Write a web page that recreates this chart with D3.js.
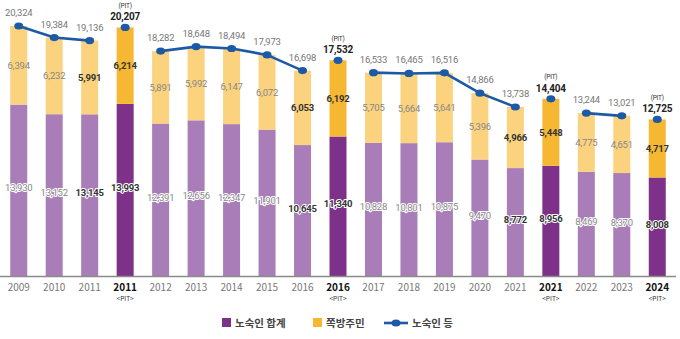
<!DOCTYPE html>
<html>
<head>
<meta charset="utf-8">
<script src="https://cdn.jsdelivr.net/npm/d3@7"></script>
<style>
  html, body { margin: 0; padding: 0; background: #fff; }
  svg { display: block; font-family: "Noto Sans CJK KR", "Noto Sans", sans-serif; }
  .num { font-family: Roboto, "Noto Sans", sans-serif; }
</style>
</head>
<body>
<div id="app"></div>
<script>
// categories: year, PIT survey flag
const years = ['2009', '2010', '2011', '2011', '2012', '2013', '2014', '2015', '2016', '2016',
  '2017', '2018', '2019', '2020', '2021', '2021', '2022', '2023', '2024'];
const isPit = [0, 0, 0, 1, 0, 0, 0, 0, 0, 1, 0, 0, 0, 0, 0, 1, 0, 0, 1];
// bold labels on the year before each PIT bar
const isBold = [0, 0, 1, 1, 0, 0, 0, 0, 1, 1, 0, 0, 0, 0, 1, 1, 0, 0, 1];

const homeless = [13930, 13152, 13145, 13993, 12391, 12656, 12347, 11901, 10645, 11340,
  10828, 10801, 10875, 9470, 8772, 8956, 8469, 8370, 8008];
const jjokbang = [6394, 6232, 5991, 6214, 5891, 5992, 6147, 6072, 6053, 6192,
  5705, 5664, 5641, 5396, 4966, 5448, 4775, 4651, 4717];
const totals = [20324, 19384, 19136, 20207, 18282, 18648, 18494, 17973, 16698, 17532,
  16533, 16465, 16516, 14866, 13738, 14404, 13244, 13021, 12725];
// which points are joined by the line
const lineGroups = [[0, 1, 2], [3], [4, 5, 6, 7, 8], [9], [10, 11, 12, 13, 14], [15], [16, 17], [18]];

const W = 680, H = 339;
const baseY = 276;

const purpleLight = '#a97db7', purpleDark = '#7e3188';
const yellowLight = '#fbd27d', yellowDark = '#f6b833';
const blue = '#1d5aa6';

const svg = d3.select('#app').append('svg').attr('width', W).attr('height', H);

const idx = d3.range(years.length);
const x = d3.scaleBand().domain(idx).range([1, 675]).paddingInner(0.5).paddingOuter(0.25);
const bw = 17;
const cx = i => x(i) + x.bandwidth() / 2;
const y = d3.scaleLinear().domain([0, 20324]).range([baseY, 26]);
const fmt = d3.format(',');

// stacked bars
const bars = svg.append('g');
idx.forEach(i => {
  bars.append('rect')
    .attr('x', cx(i) - bw / 2).attr('width', bw)
    .attr('y', y(homeless[i])).attr('height', baseY - y(homeless[i]))
    .attr('fill', isPit[i] ? purpleDark : purpleLight);
  bars.append('rect')
    .attr('x', cx(i) - bw / 2).attr('width', bw)
    .attr('y', y(totals[i])).attr('height', y(homeless[i]) - y(totals[i]))
    .attr('fill', isPit[i] ? yellowDark : yellowLight);
});

// baseline
svg.append('line').attr('x1', 0).attr('x2', 676).attr('y1', baseY + 0.5).attr('y2', baseY + 0.5)
  .attr('stroke', '#8a8a8a').attr('stroke-width', 1.6);

// line of totals
const line = d3.line().x(i => cx(i)).y(i => y(totals[i]));
lineGroups.forEach(g => {
  if (g.length > 1) {
    svg.append('path').attr('d', line(g)).attr('fill', 'none')
      .attr('stroke', blue).attr('stroke-width', 2.6);
  }
});
svg.append('g').selectAll('ellipse').data(idx).join('ellipse')
  .attr('cx', i => cx(i)).attr('cy', i => y(totals[i]))
  .attr('rx', 4.5).attr('ry', 3.6).attr('fill', blue);

// value labels inside segments
const seg = svg.append('g').attr('class', 'num').attr('text-anchor', 'middle').attr('font-size', 9.5)
  .attr('letter-spacing', -0.2);
idx.forEach(i => {
  const col = isBold[i] ? '#333' : '#888';
  const wt = isBold[i] ? 700 : 400;
  seg.append('text').attr('x', cx(i)).attr('y', (y(totals[i]) + y(homeless[i])) / 2 + 3.5)
    .attr('fill', col).attr('font-weight', wt).text(fmt(jjokbang[i]));
  seg.append('text').attr('x', cx(i)).attr('y', (baseY + y(homeless[i])) / 2 + 1)
    .attr('fill', col).attr('font-weight', wt)
    .attr('stroke', '#fff').attr('stroke-width', 2).attr('paint-order', 'stroke')
    .text(fmt(homeless[i]));
});

// totals above the line
const totalLabels = svg.append('g').attr('class', 'num').attr('text-anchor', 'middle').attr('letter-spacing', -0.2);
idx.forEach(i => {
  const ty = y(totals[i]);
  if (isPit[i]) {
    totalLabels.append('text').attr('x', cx(i)).attr('y', ty - 19.5).attr('font-size', 6.5)
      .attr('fill', '#333').text('(PIT)');
    totalLabels.append('text').attr('x', cx(i)).attr('y', ty - 7).attr('font-size', 10)
      .attr('font-weight', 700).attr('fill', '#222').text(fmt(totals[i]));
  } else {
    totalLabels.append('text').attr('x', cx(i)).attr('y', ty - 10).attr('font-size', 9.5)
      .attr('fill', '#777').text(fmt(totals[i]));
  }
});

// x axis labels
const ax = svg.append('g').attr('text-anchor', 'middle');
idx.forEach(i => {
  ax.append('text').attr('x', cx(i)).attr('y', baseY + 15).attr('font-size', 10)
    .attr('fill', isPit[i] ? '#111' : '#777').attr('font-weight', isPit[i] ? 700 : 400)
    .text(years[i]);
  if (isPit[i]) {
    ax.append('text').attr('x', cx(i)).attr('y', baseY + 25).attr('font-size', 6.5)
      .attr('fill', '#333').text('<PIT>');
  }
});

// legend
const lg = svg.append('g').attr('font-size', 10.5).attr('font-weight', 700).attr('fill', '#444');
const ly = 323;
lg.append('rect').attr('x', 222).attr('y', ly - 5).attr('width', 9).attr('height', 9).attr('fill', purpleDark);
lg.append('text').attr('x', 235).attr('y', ly + 4).text('노숙인 합계');
lg.append('rect').attr('x', 313).attr('y', ly - 5).attr('width', 9).attr('height', 9).attr('fill', yellowDark);
lg.append('text').attr('x', 326).attr('y', ly + 4).text('쪽방주민');
lg.append('line').attr('x1', 384).attr('x2', 408).attr('y1', ly).attr('y2', ly)
  .attr('stroke', blue).attr('stroke-width', 2.6);
lg.append('ellipse').attr('cx', 396).attr('cy', ly).attr('rx', 4.5).attr('ry', 3.6).attr('fill', blue);
lg.append('text').attr('x', 412).attr('y', ly + 4).text('노숙인 등');
</script>
</body>
</html>
